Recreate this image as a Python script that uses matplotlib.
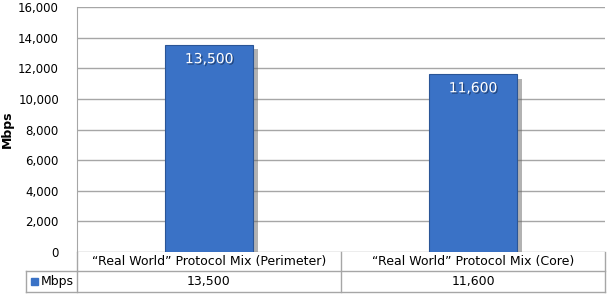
import matplotlib.pyplot as plt
import matplotlib.patheffects as pe
from matplotlib.lines import Line2D
from matplotlib.patches import Rectangle

categories = ['\u201cReal World\u201d Protocol Mix (Perimeter)', '\u201cReal World\u201d Protocol Mix (Core)']
values = [13500, 11600]
series_name = 'Mbps'
yticks = [0, 2000, 4000, 6000, 8000, 10000, 12000, 14000, 16000]

W, H = 614, 298
fig = plt.figure(figsize=(W / 100, H / 100), dpi=100)
plt.rcParams['font.family'] = ['DejaVu Sans']

left, right, top, bottom = 77, 605, 7, 252
ax = fig.add_axes([left / W, 1 - bottom / H, (right - left) / W, (bottom - top) / H])

grid_c = '#a6a6a6'
bar_c = '#3a72c6'
x = list(range(len(values)))
bars = ax.bar(x, values, width=0.33, color=bar_c, edgecolor='#2a5596', linewidth=0.8, zorder=3)
for b in bars:
    b.set_path_effects([pe.SimplePatchShadow(offset=(4, -3), shadow_rgbFace='#666666', alpha=0.5), pe.Normal()])

for xi, v in zip(x, values):
    ax.text(xi, v - 450, f'{v:,}', ha='center', va='top', color='white', fontsize=10, zorder=4,
            path_effects=[pe.withSimplePatchShadow(offset=(1, -1), shadow_rgbFace='#1c3a6a', alpha=0.8)])

ax.set_xlim(-0.5, len(values) - 0.5)
ax.set_ylim(0, 16000)
ax.set_yticks(yticks)
ax.set_yticklabels([f'{t:,}' for t in yticks], fontsize=8.5)
ax.tick_params(axis='y', length=0, pad=13)
ax.set_xticks([])
ax.yaxis.grid(True, color=grid_c, linewidth=1)
ax.set_axisbelow(True)
for s in ['top', 'right', 'bottom']:
    ax.spines[s].set_visible(False)
ax.spines['left'].set_color(grid_c)
ax.set_ylabel('Mbps', fontsize=9, fontweight='bold')
ax.yaxis.set_label_coords(-63 / (right - left), 0.5)

# data table below plot
ph = bottom - top
r1 = -19 / ph
r2 = -40 / ph
lx = -51 / (right - left)
tr = ax.transAxes
segs = [
    ([0, 1], [r1, r1]),
    ([lx, 1], [r2, r2]),
    ([lx, 0], [r1, r1]),
    ([lx, lx], [r1, r2]),
    ([0, 0], [0, r2]),
    ([1, 1], [0, r2]),
    ([0.5, 0.5], [0, r2]),
]
for xs, ys in segs:
    ax.add_line(Line2D(xs, ys, transform=tr, color=grid_c, linewidth=1, clip_on=False))

n = len(categories)
for i, (c, v) in enumerate(zip(categories, values)):
    cx = (i + 0.5) / n
    ax.text(cx, r1 / 2, c, transform=tr, ha='center', va='center', fontsize=9)
    ax.text(cx, (r1 + r2) / 2, f'{v:,}', transform=tr, ha='center', va='center', fontsize=9)

sq = 7 / (right - left)
ax.add_patch(Rectangle((lx + 5 / (right - left), (r1 + r2) / 2 - 3.5 / ph), sq, 7 / ph,
                       transform=tr, color=bar_c, clip_on=False))
ax.text(lx + 15 / (right - left), (r1 + r2) / 2, series_name, transform=tr, ha='left', va='center', fontsize=9)

fig.savefig('out.png', dpi=100)
